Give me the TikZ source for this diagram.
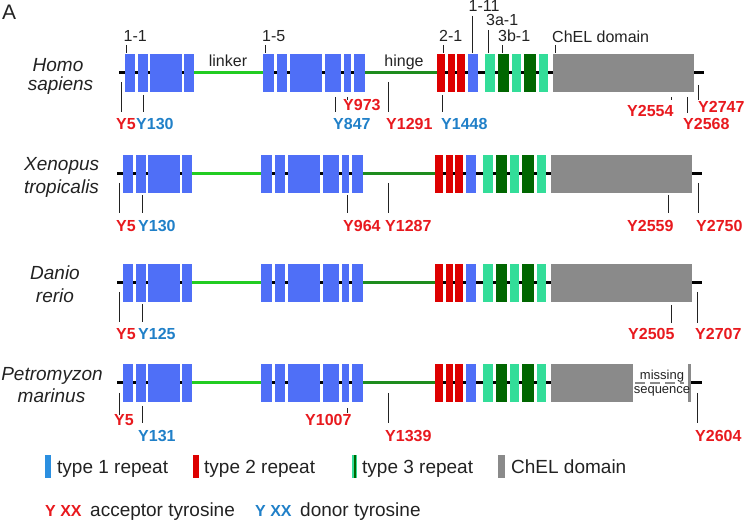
\documentclass[tikz,border=0pt]{standalone}
\usepackage{fontspec}
\setmainfont{Liberation Sans}
\definecolor{boxblue}{HTML}{4F6FF7}
\definecolor{legblue}{HTML}{2B8FE0}
\definecolor{boxred}{HTML}{DD0000}
\definecolor{lgreen}{HTML}{33DD99}
\definecolor{dgreen}{HTML}{006600}
\definecolor{linkcol}{HTML}{22CC22}
\definecolor{hingecol}{HTML}{1E8C1E}
\definecolor{chel}{HTML}{8A8A8A}
\definecolor{accred}{HTML}{E8191E}
\definecolor{donblue}{HTML}{2080C8}
\definecolor{txt}{HTML}{222222}
\tikzset{
  bb/.style={line width=3pt, black},
  tick/.style={line width=1pt, draw=txt},
  lab/.style={inner sep=0pt, text=txt, font=\fontsize{16}{19}\selectfont},
  acc/.style={inner sep=0pt, text=accred, font=\fontsize{16}{19}\selectfont\bfseries, anchor=base west},
  don/.style={inner sep=0pt, text=donblue, font=\fontsize{16}{19}\selectfont\bfseries, anchor=base west},
  spec/.style={inner sep=0pt, text=txt, font=\fontsize{19}{22}\selectfont\itshape, anchor=base},
  leg/.style={inner sep=0pt, text=txt, font=\fontsize{19}{22}\selectfont, anchor=base west},
}
\newcommand\mydomains{%
  \draw[bb] (117,0) -- (551,0);
  \draw[line width=3pt, linkcol] (192,0) -- (261,0);
  \draw[line width=3pt, hingecol] (363,0) -- (435,0);
  \foreach \a/\b in {122.7/133.3,136/145.7,148/180,182/192,261/272,275/285,288/320,323/339,342/349,352/363,466/476}
    \fill[boxblue] (\a,-19) rectangle (\b,19);
  \foreach \a/\b in {435/442.7,446/452.7,455.3/462.7}
    \fill[boxred] (\a,-19) rectangle (\b,19);
  \foreach \a/\b in {483.3/492.7,510/519.3,536.7/545.7}
    \fill[lgreen] (\a,-19) rectangle (\b,19);
  \foreach \a/\b in {495.7/507.3,521.7/534.3}
    \fill[dgreen] (\a,-19) rectangle (\b,19);
}
\newcommand\fullchel{%
  \draw[bb] (550,0) -- (702,0);
  \fill[chel] (550.7,-19) rectangle (691.7,19);
}
\begin{document}
\begin{tikzpicture}[x=1pt,y=-1pt]
\path[use as bounding box] (0,0) rectangle (745,521);
\node[inner sep=0pt, text=txt, font=\fontsize{21}{24}\selectfont, anchor=base west] (panel) at (2,20) {A};

% rows
\begin{scope}[shift={(2,73)}]\mydomains\fullchel\end{scope}
\begin{scope}[shift={(0,174)}]\mydomains\fullchel\end{scope}
\begin{scope}[shift={(0,283)}]\mydomains\fullchel\end{scope}
\begin{scope}[shift={(0,383)}]
  \mydomains
  \fill[chel] (550.7,-19) rectangle (633,19);
  \draw[line width=2pt, chel, dash pattern=on 10pt off 5pt] (635,0.5) -- (684,0.5);
  \draw[bb] (690,0) -- (702,0);
  \fill[chel] (688,-19) rectangle (691,19);
\end{scope}

% species
\node[spec] (hs1) at (58,71.7) {Homo};
\node[spec] (hs2) at (60.5,90.7) {sapiens};
\node[spec] (xt1) at (61.7,170.7) {Xenopus};
\node[spec] (xt2) at (61.5,194) {tropicalis};
\node[spec] (dr1) at (55,280) {Danio};
\node[spec] (dr2) at (55,303) {rerio};
\node[spec] (pm1) at (52,380.7) {Petromyzon};
\node[spec] (pm2) at (51.5,403) {marinus};

% top labels
\node[lab, anchor=base west] (l11) at (123.5,41.7) {1-1};
\node[lab, anchor=base west] (l15) at (262,41.7) {1-5};
\node[lab, anchor=base west] (l21) at (439,41.7) {2-1};
\node[lab, anchor=base west] (l111) at (468.5,12) {1-11};
\node[lab, anchor=base west] (l3a) at (486,25.5) {3a-1};
\node[lab, anchor=base west] (l3b) at (498,41.7) {3b-1};
\node[lab, anchor=base west] (lchel) at (552,43) {ChEL domain};
\node[lab, anchor=base] (llink) at (228,66.7) {linker};
\node[lab, anchor=base] (lhinge) at (404,66.7) {hinge};
\foreach \x/\t in {126/45,265.7/45,443/45,472/16,488/30,502/45,555/45}
  \draw[tick] (\x,\t) -- (\x,53);

% row 1 tyrosines
\node[acc] (a1) at (116,129.5) {Y5};
\node[don] (b1) at (136,129.5) {Y130};
\node[don] (b2) at (333,129.5) {Y847};
\node[acc] (a2) at (343,111) {Y973};
\node[acc] (a3) at (386,129.5) {Y1291};
\node[don] (b3) at (441,129.5) {Y1448};
\node[acc] (a4) at (627,116.5) {Y2554};
\node[acc] (a5) at (683,130) {Y2568};
\node[acc] (a6) at (698,113) {Y2747};
\foreach \x/\s/\e in {121/82/112,143/95/112,335/97/112,347/97/100,388/82/112,442/95/112,671/97/100,687/97/113,698/85/100}
  \draw[tick] (\x,\s) -- (\x,\e);

% row 2
\node[acc] (c1) at (116,231.5) {Y5};
\node[don] (c2) at (138,231.5) {Y130};
\node[acc] (c3) at (343,231.5) {Y964};
\node[acc] (c4) at (385,231.5) {Y1287};
\node[acc] (c5) at (627,231.5) {Y2559};
\node[acc] (c6) at (696,231.5) {Y2750};
\foreach \x/\s/\e in {119/183/213,142/195/213,347/195/213,388/183/213,668/195/213,698/183/213}
  \draw[tick] (\x,\s) -- (\x,\e);

% row 3
\node[acc] (d1) at (116,340) {Y5};
\node[don] (d2) at (138,340) {Y125};
\node[acc] (d3) at (628,340) {Y2505};
\node[acc] (d4) at (695,340) {Y2707};
\foreach \x/\s/\e in {119/292/322,142/304/322,671/305/323,697/292/323}
  \draw[tick] (\x,\s) -- (\x,\e);

% row 4
\node[acc] (e1) at (114,426) {Y5};
\node[don] (e2) at (138,441.7) {Y131};
\node[acc] (e3) at (305,426) {Y1007};
\node[acc] (e4) at (385,441.7) {Y1339};
\node[acc] (e5) at (695,441.7) {Y2604};
\foreach \x/\s/\e in {119/393/415,142/406/423,347/408/413,388/393/423,697/393/423}
  \draw[tick] (\x,\s) -- (\x,\e);
\node[inner sep=0pt, text=txt, font=\fontsize{13}{15}\selectfont, anchor=base] (miss1) at (662,380) {missing};
\node[inner sep=0pt, text=txt, font=\fontsize{13}{15}\selectfont, anchor=base] (miss2) at (662,394) {sequence};

% legend
\fill[legblue] (45,455) rectangle (51,478);
\fill[boxred] (193,455) rectangle (199,478);
\fill[lgreen] (352,455) rectangle (357,478);
\fill[dgreen] (353.5,455) rectangle (356,478);
\fill[chel] (498,455) rectangle (505,478);
\node[leg] (t1) at (57,473.3) {type 1 repeat};
\node[leg] (t2) at (204,473.3) {type 2 repeat};
\node[leg] (t3) at (362,473.3) {type 3 repeat};
\node[leg] (t4) at (511,473.3) {ChEL domain};
\node[acc] (ya) at (45,516.7) {Y XX};
\node[leg] (ta) at (90,516.7) {acceptor tyrosine};
\node[don] (yd) at (255,516.7) {Y XX};
\node[leg] (td) at (300,516.7) {donor tyrosine};
\end{tikzpicture}
\end{document}
